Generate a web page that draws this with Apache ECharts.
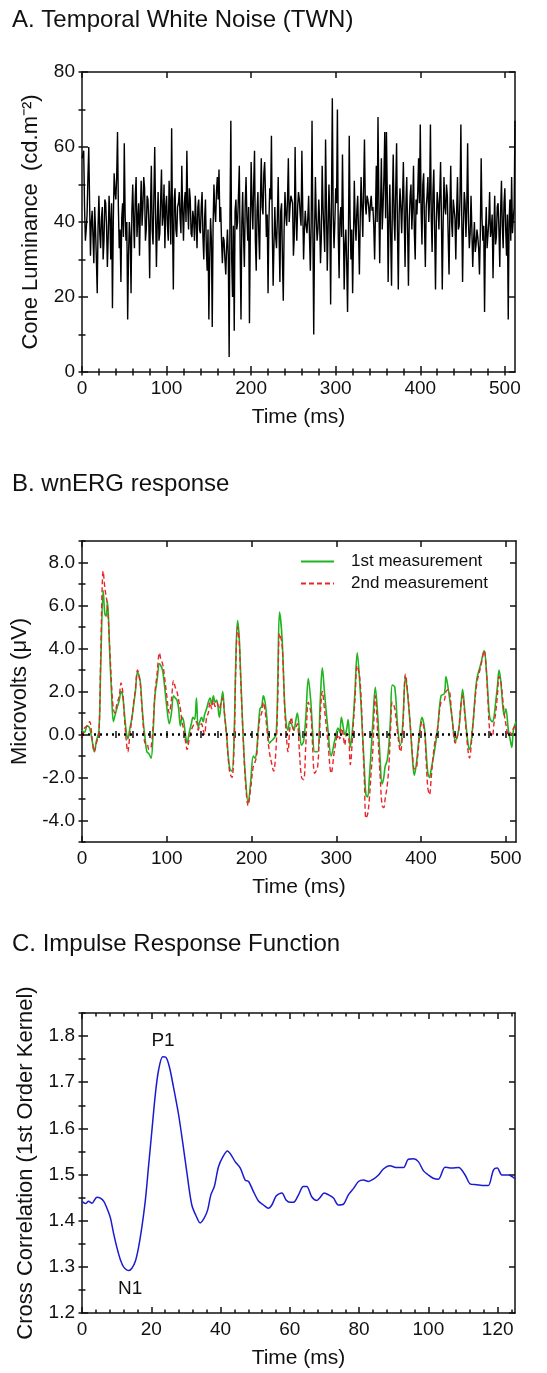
<!DOCTYPE html>
<html>
<head>
<meta charset="utf-8">
<title>TWN / wnERG / Impulse Response</title>
<script src="https://cdn.jsdelivr.net/npm/echarts@6/dist/echarts.min.js"></script>
<style>
  html, body { margin: 0; padding: 0; background: #fff; }
  #chart { width: 547px; height: 1373px; }
</style>
</head>
<body>
<div id="chart"></div>
<script>
// ---- A. temporal white noise, one sample per ms ----
const twnStep = 1
const twnValue = [
  57, 58, 59, 44, 35, 38, 42, 52, 60, 45, 31, 40, 43, 36, 29, 44, 38, 30, 21, 39,
  47, 37, 33, 41, 44, 30, 35, 46, 45, 39, 28, 36, 47, 41, 30, 45, 17, 40, 53, 48,
  46, 52, 64, 44, 33, 38, 24, 41, 45, 36, 61, 42, 35, 40, 14, 31, 40, 36, 21, 43,
  50, 40, 33, 47, 52, 36, 41, 45, 31, 43, 51, 39, 44, 52, 49, 35, 38, 47, 46, 40,
  25, 44, 55, 38, 34, 47, 60, 42, 28, 40, 48, 35, 37, 46, 54, 39, 42, 50, 33, 44,
  47, 39, 35, 51, 44, 34, 65, 40, 22, 46, 49, 38, 36, 44, 45, 48, 41, 37, 55, 43,
  35, 45, 48, 40, 59, 44, 38, 49, 46, 37, 36, 43, 41, 35, 47, 40, 33, 44, 46, 38,
  37, 44, 48, 36, 30, 41, 46, 33, 27, 38, 14, 30, 41, 35, 12, 39, 50, 43, 40, 48,
  52, 46, 54, 40, 44, 35, 29, 36, 35, 30, 26, 33, 38, 31, 4, 42, 67, 30, 20, 39,
  11, 43, 46, 38, 40, 47, 55, 33, 14, 40, 48, 36, 28, 45, 52, 41, 35, 44, 13, 37,
  56, 45, 38, 50, 59, 35, 27, 43, 48, 37, 30, 46, 57, 44, 42, 53, 56, 47, 36, 42,
  21, 40, 49, 46, 63, 38, 23, 34, 44, 36, 33, 41, 52, 37, 24, 43, 45, 30, 19, 38,
  48, 42, 39, 46, 57, 40, 44, 47, 47, 45, 31, 36, 60, 41, 35, 44, 48, 46, 42, 39,
  59, 44, 30, 38, 43, 39, 37, 41, 47, 36, 27, 40, 67, 38, 10, 37, 52, 41, 35, 38,
  46, 40, 29, 36, 55, 44, 38, 32, 62, 45, 27, 38, 50, 41, 18, 46, 73, 42, 33, 40,
  49, 45, 70, 37, 25, 41, 44, 36, 58, 40, 22, 34, 38, 29, 16, 35, 63, 41, 30, 38,
  21, 35, 51, 40, 35, 43, 47, 37, 26, 41, 52, 44, 36, 49, 62, 45, 42, 47, 46, 44,
  40, 45, 47, 43, 44, 39, 30, 42, 55, 40, 68, 46, 29, 44, 57, 38, 44, 52, 64, 41,
  64, 47, 24, 40, 50, 36, 23, 45, 58, 41, 35, 49, 61, 38, 22, 42, 49, 44, 37, 46,
  56, 42, 28, 45, 52, 38, 23, 41, 47, 50, 38, 44, 55, 37, 30, 46, 42, 48, 57, 45,
  66, 43, 34, 50, 53, 39, 28, 44, 47, 52, 40, 46, 66, 41, 32, 48, 54, 38, 22, 40,
  48, 45, 38, 47, 56, 41, 22, 39, 52, 44, 42, 50, 47, 36, 26, 43, 55, 40, 36, 46,
  46, 41, 30, 43, 52, 38, 39, 47, 66, 42, 24, 39, 48, 45, 36, 44, 61, 40, 33, 37,
  47, 38, 28, 35, 40, 32, 34, 38, 36, 33, 26, 37, 57, 41, 35, 39, 16, 36, 44, 33,
  33, 40, 48, 36, 38, 42, 25, 37, 47, 34, 36, 44, 45, 38, 28, 43, 51, 39, 33, 45,
  49, 38, 31, 42, 14, 40, 46, 35, 52, 37, 41, 44, 67
]

// ---- B. wnERG response ----
const ergTime = [
  0, 3, 6, 9, 12, 14.5, 17, 20, 22, 25,
  27, 28.6, 30, 33, 35, 37, 39, 41, 44, 46,
  48, 50, 52, 54, 56.5, 59, 61, 63, 65.5, 68.6,
  70.5, 72.5, 74.5, 76.5, 79, 81.5, 84, 86, 88.5, 91.4,
  93, 95, 97, 100, 103, 105.5, 108, 110, 112, 114,
  116, 118, 120, 122, 124, 126.5, 129, 131, 133, 135,
  137, 139, 141, 143, 144.5, 147, 149, 151, 153, 155,
  157, 159, 162, 164, 166, 168, 170.6, 172.5, 174.5, 177,
  179.5, 181.5, 183.5, 185.5, 187, 190, 192.5, 196, 199, 202,
  204, 206, 208, 210, 212, 214, 216, 218, 221, 223.5,
  226, 229, 231, 233, 236, 239, 241, 243, 245, 247,
  250, 252, 254, 256.5, 259, 261.5, 264, 267, 270, 272,
  274.5, 278, 281, 283.5, 286, 290, 294, 298, 302, 304,
  306, 308, 310, 312, 314, 316.5, 319.6, 322, 324.7, 328,
  331, 333, 335, 337, 339, 341, 343, 346, 349, 351.5,
  354, 356, 357.6, 360, 362, 364, 366, 369, 372.5, 375.7,
  378.4, 381.6, 385, 388, 390, 392, 394, 396, 398.5, 401,
  404, 406, 408, 410, 412, 415.7, 419.6, 423.5, 427.5, 429.4,
  432.5, 436.5, 440.4, 444.3, 447, 449, 451.8, 455, 457, 460.8,
  465.5, 470.6, 474.5, 477, 479, 481, 484, 486, 488, 490,
  492, 494, 496, 498, 500, 503, 505, 507, 509, 512
]
const ergFirst = [
  0.2, 0.1, 0.4, 0.3, -0.3, -0.8, -0.3, 0.2, 3.0, 6.7,
  5.6, 5.5, 6.2, 3.5, 1.8, 0.6, 0.9, 1.2, 1.6, 2.0,
  1.8, 1.0, 0.2, -0.2, 0.3, 0.8, 1.4, 2.0, 2.9, 2.5,
  1.5, 0.5, -0.2, -0.8, -0.9, -1.1, 0.2, 1.8, 2.5, 3.3,
  3.2, 3.0, 2.4, 1.3, 0.5, 1.0, 1.8, 1.7, 1.6, 1.2,
  0.4, 0.8, 0.6, 0.0, -0.4, 0.1, 0.5, 0.8, 0.7, 1.7,
  0.3, 0.6, 0.8, 0.6, 0.9, 1.2, 1.5, 1.7, 1.4, 1.8,
  1.5, 1.6, 0.8, 1.4, 2.0, 1.0, 0.0, -1.0, -1.6, -1.7,
  0.0, 3.5, 5.3, 4.5, 3.0, 0.0, -1.8, -3.2, -2.2, -1.0,
  -1.1, -0.8, 0.3, 1.2, 1.3, 1.8, 1.5, 0.8, -0.4, -0.3,
  -0.2, 0.0, 2.5, 5.7, 4.5, 1.5, 0.5, 0.2, 0.6, 0.5,
  0.2, 0.6, 1.0, 0.2, -0.5, -0.3, 0.8, 2.6, 1.5, 0.2,
  -0.8, -0.8, 1.5, 3.1, 2.0, 0.3, -1.0, -0.3, 0.3, 0.1,
  0.8, 0.4, 0.0, 0.2, 0.7, -0.6, 0.5, 2.0, 3.8, 2.2,
  0.0, -1.5, -2.8, -2.9, -2.0, -0.8, 0.5, 2.2, 0.8, -1.0,
  -2.3, -2.0, -1.5, -1.2, -0.5, 0.8, 2.3, 2.2, 0.3, -0.5,
  0.5, 2.7, 1.5, 0.0, -1.2, -1.9, -1.5, -0.8, 0.2, 0.8,
  0.3, -0.8, -1.8, -2.0, -1.6, -0.8, 0.3, 1.8, 1.9, 2.7,
  2.0, 0.8, -0.3, 0.2, 1.3, 2.1, 1.0, -0.3, -0.7, 0.3,
  2.5, 3.3, 3.9, 3.0, 1.8, 0.8, 0.6, 0.8, 1.5, 2.2,
  3.0, 2.5, 1.5, 0.9, 1.2, 0.2, -0.2, -0.6, 0.2, 0.6
]
const ergSecond = [
  -0.1, 0.3, 0.4, 0.6, -0.2, -0.8, -0.4, 0.1, 3.5, 7.6,
  6.8, 6.4, 6.0, 3.8, 2.2, 1.2, 1.0, 1.4, 1.8, 2.4,
  2.0, 0.8, -0.2, -0.8, 0.0, 0.8, 1.5, 2.1, 3.0, 2.4,
  1.4, 0.3, -0.4, -0.4, -0.7, -0.6, 0.5, 1.9, 2.8, 3.8,
  3.5, 3.3, 2.8, 1.8, 1.0, 1.6, 2.5, 2.2, 2.0, 1.6,
  1.2, 0.6, 0.2, -0.3, -0.7, -0.2, 0.2, 0.4, 0.5, 0.6,
  0.2, 0.4, 0.5, 0.2, 0.0, 0.8, 1.0, 1.5, 1.2, 1.6,
  1.3, 1.5, 1.2, 1.5, 1.7, 1.0, -0.1, -1.1, -1.8, -2.0,
  -0.3, 3.2, 5.0, 4.3, 2.8, 0.0, -2.0, -3.3, -2.5, -1.5,
  -1.3, -1.0, 0.1, 0.8, 1.0, 1.5, 1.1, 0.3, -0.8, -1.3,
  -1.7, -0.6, 1.8, 4.7, 4.2, 1.3, 0.0, -0.8, 0.2, 0.8,
  0.2, 0.3, 0.5, -0.8, -2.0, -2.1, -0.5, 1.5, 1.0, -0.5,
  -1.8, -1.5, 0.8, 2.0, 1.2, -0.3, -1.8, -0.7, 0.0, -0.2,
  0.3, 0.0, -0.5, 0.0, 0.0, -1.4, 0.2, 1.6, 3.2, 2.5,
  0.0, -2.0, -3.9, -3.7, -3.0, -1.8, -0.8, 1.8, 0.0, -1.8,
  -3.3, -3.4, -3.0, -2.4, -1.5, 0.2, 1.5, 1.2, 0.0, -0.8,
  0.2, 2.8, 1.6, 0.0, -1.0, -1.6, -1.6, -1.0, 0.0, 0.6,
  0.2, -1.2, -2.5, -2.8, -2.0, -0.5, 0.3, 1.5, 1.6, 2.0,
  2.1, 0.8, -0.4, 0.2, 1.4, 1.8, 0.8, -0.6, -1.1, 0.3,
  2.3, 3.2, 3.9, 3.0, 1.5, 0.2, -0.1, 0.5, 1.0, 1.8,
  2.7, 2.5, 1.8, 1.0, 0.5, 0.0, 0.1, 0.0, 0.3, 0.4
]

// ---- C. impulse response function (1st order kernel) ----
const irfTime = [
  0, 1, 1.9, 2.9, 4.3, 5.3, 6.3, 7.2, 8.2, 9.1,
  10.1, 11.1, 12, 13.5, 14.4, 15.4, 16.3, 17.3, 18.3, 19.2,
  20.2, 21.2, 22.1, 23.3, 24.2, 25.2, 26.4, 27.9, 29.1, 30.3,
  31.7, 33.2, 34.1, 35.3, 36.3, 37.2, 38.2, 39.4, 40.7, 42,
  43, 44.2, 45.7, 47.1, 48.1, 49.5, 51, 52.4, 53.8, 54.8,
  56.1, 57.7, 58.9, 60.1, 61.1, 62.5, 63.9, 64.9, 66.3, 67.8,
  68.8, 69.9, 71.2, 72.6, 74, 75.5, 76.9, 78.4, 79.8, 81.3,
  82.7, 84.1, 85.6, 87, 88.9, 90.9, 92.8, 94.2, 95.7, 97.1,
  98.6, 100, 101.4, 102.9, 104.8, 106.7, 108.7, 110.6, 112, 113.9,
  116.3, 117.3, 118.8, 119.9, 121.2, 123.1, 125
]
const irfValue = [
  1.442, 1.437, 1.442, 1.438, 1.451, 1.449, 1.442, 1.427, 1.406, 1.373,
  1.341, 1.315, 1.300, 1.292, 1.297, 1.312, 1.341, 1.387, 1.445, 1.517,
  1.597, 1.676, 1.726, 1.755, 1.754, 1.734, 1.690, 1.629, 1.568, 1.503,
  1.434, 1.406, 1.395, 1.406, 1.424, 1.456, 1.474, 1.517, 1.539, 1.551,
  1.543, 1.528, 1.514, 1.488, 1.485, 1.463, 1.442, 1.434, 1.427, 1.434,
  1.454, 1.460, 1.445, 1.440, 1.440, 1.456, 1.474, 1.474, 1.452, 1.444,
  1.451, 1.460, 1.456, 1.449, 1.434, 1.436, 1.456, 1.470, 1.485, 1.488,
  1.485, 1.490, 1.499, 1.512, 1.519, 1.515, 1.515, 1.533, 1.534, 1.528,
  1.508, 1.499, 1.492, 1.490, 1.516, 1.514, 1.515, 1.499, 1.480, 1.478,
  1.476, 1.476, 1.510, 1.514, 1.499, 1.499, 1.491
]
const irfPeakNames = ['P1', 'N1']
const irfPeakTime = [23.4, 13.9]
const irfPeakValue = [1.79, 1.252]

// ---- axis ticks ----
const timeMajor = [0, 100, 200, 300, 400, 500]
const lumMajor = [0, 20, 40, 60, 80]
const voltMajor = [-4, -2, 0, 2, 4, 6, 8]
const irfTimeMajor = [0, 20, 40, 60, 80, 100, 120]
const irfMajor = [1.2, 1.3, 1.4, 1.5, 1.6, 1.7, 1.8]

const FONT = "'Liberation Sans', Arial, Helvetica, sans-serif"
const INK = '#111'

function range(a, b, step) {
  const out = []
  for (let v = a; v <= b + 1e-9; v += step) out.push(+v.toFixed(4))
  return out
}

// 4 axes per dimension: main + minor ticks on one side, mirror + minor on the other
function makeAxes(dim, grid, min, max, major, minor, fmt, name, nameGap, nameSize) {
  const sideA = dim === 'x' ? 'bottom' : 'left'
  const sideB = dim === 'x' ? 'top' : 'right'
  const line = { show: true, onZero: false, lineStyle: { color: INK, width: 1.5 } }
  const tick = (vals, len) => ({
    show: true, inside: true, length: len, customValues: vals,
    lineStyle: { color: INK, width: 1.5 }
  })
  const base = { type: 'value', gridIndex: grid, min: min, max: max, splitLine: { show: false } }
  return [
    Object.assign({}, base, {
      position: sideA, axisLine: line, axisTick: tick(major, 6),
      axisLabel: {
        show: true, customValues: major, formatter: fmt, margin: 7,
        color: INK, fontSize: 19, fontFamily: FONT
      },
      name: name, nameLocation: 'middle', nameGap: nameGap,
      nameTextStyle: { color: INK, fontSize: nameSize, fontFamily: FONT }
    }),
    Object.assign({}, base, { position: sideA, axisLine: { show: false }, axisTick: tick(minor, 3.5), axisLabel: { show: false } }),
    Object.assign({}, base, { position: sideB, axisLine: line, axisTick: tick(major, 6), axisLabel: { show: false } }),
    Object.assign({}, base, { position: sideB, axisLine: { show: false }, axisTick: tick(minor, 3.5), axisLabel: { show: false } })
  ]
}

const intFmt = v => String(Math.round(v))
const oneDec = v => v.toFixed(1)

const xAxes = [].concat(
  makeAxes('x', 0, 0, 512, timeMajor, range(0, 500, 20), intFmt, 'Time (ms)', 35, 21),
  makeAxes('x', 1, 0, 512, timeMajor, range(0, 500, 20), intFmt, 'Time (ms)', 35, 21),
  makeAxes('x', 2, 0, 125, irfTimeMajor, range(0, 124, 4), intFmt, 'Time (ms)', 35, 21)
)
const yAxes = [].concat(
  makeAxes('y', 0, 0, 80, lumMajor, range(0, 80, 10), intFmt, 'Cone Luminance  (cd.m⁻²)', 40, 22),
  makeAxes('y', 1, -5, 9, voltMajor, range(-5, 9, 1), oneDec, 'Microvolts (μV)', 45, 22),
  makeAxes('y', 2, 1.2, 1.85, irfMajor, range(1.2, 1.85, 0.05), oneDec, 'Cross Correlation (1st Order Kernel)', 45, 22)
)

const titleStyle = { fontSize: 24, fontWeight: 'normal', color: INK, fontFamily: FONT }

const chart = echarts.init(document.getElementById('chart'))
chart.setOption({
  animation: false,
  backgroundColor: '#fff',
  title: [
    { text: 'A. Temporal White Noise (TWN)', left: 12, top: 8, padding: 0, textStyle: titleStyle },
    { text: 'B. wnERG response', left: 12, top: 472, padding: 0, textStyle: titleStyle },
    { text: 'C. Impulse Response Function', left: 12, top: 932, padding: 0, textStyle: titleStyle }
  ],
  grid: [
    { left: 82, top: 72, width: 433, height: 300 },
    { left: 82, top: 541, width: 434, height: 301 },
    { left: 82, top: 1013, width: 433, height: 300 }
  ],
  legend: {
    data: ['1st measurement', '2nd measurement'],
    orient: 'vertical',
    left: 300,
    top: 553,
    padding: 0,
    itemWidth: 33,
    itemHeight: 14,
    itemGap: 5,
    itemStyle: { opacity: 0 },
    textStyle: { color: INK, fontSize: 17, fontFamily: FONT, padding: [0, 0, 0, 12] }
  },
  xAxis: xAxes,
  yAxis: yAxes,
  series: [
    {
      name: 'TWN',
      type: 'line',
      xAxisIndex: 0, yAxisIndex: 0,
      symbol: 'none',
      data: twnValue.map((v, i) => [i * twnStep, v]),
      lineStyle: { color: '#000', width: 1.4 }
    },
    {
      name: '1st measurement',
      type: 'line',
      xAxisIndex: 4, yAxisIndex: 4,
      symbol: 'none',
      smooth: 0.35,
      data: ergTime.map((t, i) => [t, ergFirst[i]]),
      itemStyle: { color: '#1fb51f' },
      lineStyle: { color: '#1fb51f', width: 1.6 },
      markLine: {
        silent: true,
        symbol: ['none', 'none'],
        label: { show: false },
        data: [{ yAxis: 0 }],
        lineStyle: { color: '#000', width: 2.5, type: [2, 4] }
      }
    },
    {
      name: '2nd measurement',
      type: 'line',
      xAxisIndex: 4, yAxisIndex: 4,
      symbol: 'none',
      smooth: 0.35,
      data: ergTime.map((t, i) => [t, ergSecond[i]]),
      itemStyle: { color: '#e8262a' },
      lineStyle: { color: '#e8262a', width: 1.4, type: [5, 3] }
    },
    {
      name: 'IRF',
      type: 'line',
      xAxisIndex: 8, yAxisIndex: 8,
      symbol: 'none',
      smooth: 0.3,
      data: irfTime.map((t, i) => [t, irfValue[i]]),
      lineStyle: { color: '#1a1ad0', width: 1.5 },
      markPoint: {
        symbol: 'circle',
        symbolSize: 1,
        itemStyle: { color: 'rgba(0,0,0,0)' },
        label: { show: true, position: 'inside', color: INK, fontSize: 19, fontFamily: FONT },
        data: irfPeakNames.map((n, i) => ({
          name: n, coord: [irfPeakTime[i], irfPeakValue[i]], label: { formatter: n }
        }))
      }
    }
  ]
})
</script>
</body>
</html>
